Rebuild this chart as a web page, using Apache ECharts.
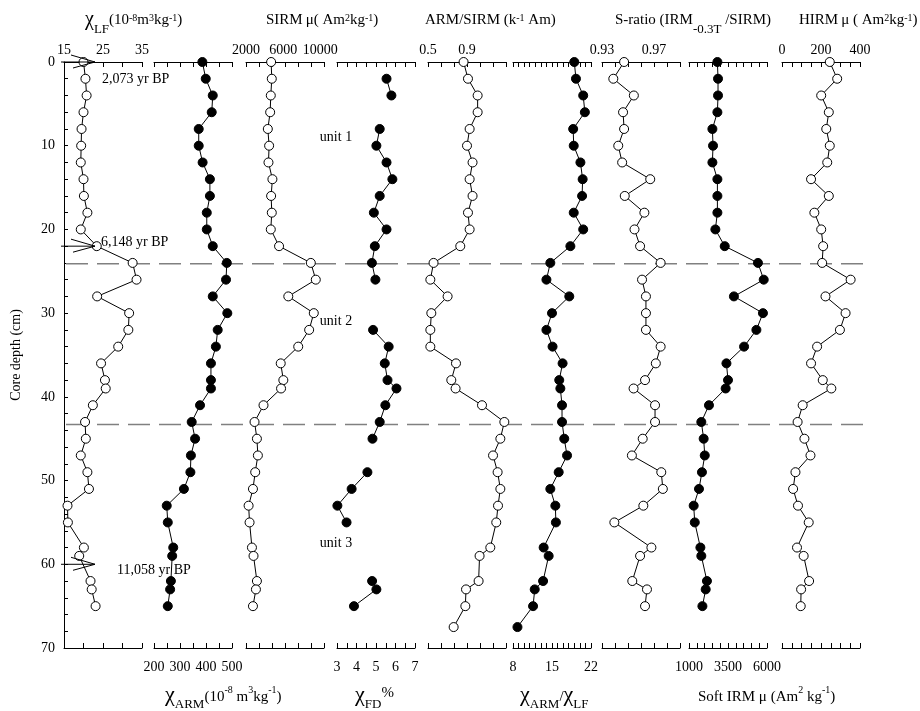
<!DOCTYPE html>
<html>
<head>
<meta charset="utf-8">
<title>Core magnetic parameters</title>
<script src="https://cdn.jsdelivr.net/npm/echarts@6/dist/echarts.min.js"></script>
<style>
  html, body { margin: 0; padding: 0; background: #fff; }
  #chart { width: 920px; height: 711px; }
</style>
</head>
<body>
<div id="chart"></div>
<script>
// depths (cm) shared by all profiles
var depth = [0, 2, 4, 6, 8, 10, 12, 14, 16, 18, 20, 22, 24, 26, 28, 30, 32, 34, 36, 38, 39, 41, 43, 45, 47, 49, 51, 53, 55, 58, 59, 62, 63, 65, 67.5];

var chiLF = [20, 20.5, 20.8, 20, 19.5, 19.4, 19.3, 20, 20.1, 21, 19.3, 23.4, 32.6, 33.6, 23.5, 31.7, 31.5, 28.9, 24.5, 25.5, 25.7, 22.4, 20.4, 20.6, 19.3, 21, 21.4, 15.9, 16, 20.1, 18.9, 21.8, 22.1, 23.1, null];
var chiARM = [386, 399, 426, 422, 372, 372, 387, 415, 415, 403, 403, 426, 480, 477, 426, 482, 445, 438, 419, 419, 419, 377, 345, 358, 342, 340, 315, 249, 253, 274, 270, 265, 262, 253, null];
var sirm = [4705, 4778, 4670, 4600, 4350, 4490, 4420, 4845, 4705, 4778, 4670, 5560, 8980, 9515, 6555, 9300, 8800, 7625, 5740, 6020, 5775, 3885, 2920, 3175, 3280, 2990, 2750, 2280, 2385, 2640, 2810, 3175, 3070, 2750, null];
var chiFD = [null, 5.54, 5.79, null, 5.19, 5.02, 5.54, 5.84, 5.19, 4.89, 5.54, 4.94, 4.79, 4.97, null, null, 4.85, 5.65, 5.45, 5.59, 6.05, 5.48, 5.19, 4.82, null, 4.56, 3.75, 3.02, 3.49, null, null, 4.8, 5.02, 3.87, null];
var armSirm = [0.865, 0.91, 1.009, 1.009, 0.927, 0.9, 0.957, 0.927, 0.957, 0.91, 0.927, 0.831, 0.557, 0.524, 0.701, 0.534, 0.524, 0.524, 0.787, 0.739, 0.783, 1.054, 1.283, 1.242, 1.167, 1.214, 1.242, 1.218, 1.2, 1.139, 1.029, 1.019, 0.89, 0.883, 0.763];
var armLfRatio = [19.0, 19.3, 20.6, 20.9, 18.8, 18.9, 20.1, 20.5, 20.4, 18.9, 20.6, 18.3, 14.7, 14.0, 18.1, 15.0, 14.0, 15.1, 16.9, 16.3, 16.5, 16.8, 16.8, 17.2, 17.7, 16.2, 14.7, 15.6, 15.7, 13.5, 14.4, 13.4, 11.9, 11.6, 8.8];
var sRatio = [0.947, 0.9387, 0.9545, 0.9462, 0.947, 0.9425, 0.9455, 0.9671, 0.9475, 0.9626, 0.955, 0.9593, 0.9751, 0.9608, 0.9638, 0.9638, 0.9638, 0.9751, 0.9714, 0.9631, 0.9543, 0.9708, 0.9708, 0.9613, 0.953, 0.9756, 0.9768, 0.9618, 0.9395, 0.968, 0.9593, 0.9533, 0.9646, 0.9631, null];
var softIRM = [2820, 2860, 2860, 2820, 2500, 2540, 2500, 2820, 2820, 2820, 2690, 3290, 5420, 5790, 3880, 5740, 5320, 4530, 3400, 3500, 3350, 2280, 1790, 1940, 2010, 1830, 1640, 1300, 1370, 1730, 1790, 2150, 2070, 1860, null];
var hirm = [245, 283, 201, 240, 227, 245, 232, 149, 240, 166, 201, 211, 206, 352, 223, 326, 297, 180, 149, 209, 253, 106, 80, 115, 146, 69, 57, 82, 137, 77, 111, 139, 98, 96, null];

// axis ticks and tick labels
var chiLFTicks = [15, 20, 25, 30, 35], chiLFLabels = [15, 25, 35];
var chiARMTicks = [200, 250, 300, 350, 400, 450, 500], chiARMLabels = [200, 300, 400, 500];
var sirmTicks = [2000, 3400, 4800, 6200, 7600, 9000, 10400], sirmLabels = [2000, 6000, 10000];
var chiFDTicks = [3, 3.5, 4, 4.5, 5, 5.5, 6, 6.5, 7], chiFDLabels = [3, 4, 5, 6, 7];
var armSirmTicks = [0.5, 0.6333, 0.7667, 0.9, 1.0333, 1.1667, 1.3], armSirmLabels = [0.5, 0.9];
var ratioTicks = [8, 9, 10, 11, 12, 13, 14, 15, 16, 17, 18, 19, 20, 21, 22], ratioLabels = [8, 15, 22];
var sRatioTicks = [0.93, 0.94, 0.95, 0.96, 0.97, 0.98, 0.99], sRatioLabels = [0.93, 0.97];
var softTicks = [1000, 1500, 2000, 2500, 3000, 3500, 4000, 4500, 5000, 5500, 6000], softLabels = [1000, 3500, 6000];
var hirmTicks = [0, 50, 100, 150, 200, 250, 300, 350, 400], hirmLabels = [0, 200, 400];

// dated levels and unit boundaries
var ageDepths = [0, 22, 60];
var ageLabels = ['2,073 yr BP', '6,148 yr BP', '11,058 yr BP'];
var unitNames = ['unit 1', 'unit 2', 'unit 3'];
var unitDepths = [9, 31, 57.5];
var unitBoundaries = [24.1, 43.3];

var SERIF = 'Liberation Serif';
var ageLabelOffsets = [[38, 17], [37, -4], [53, 6]];

var panels = [
  { data: chiLF, side: 'top', open: true, min: 15, max: 35, ticks: chiLFTicks, labels: chiLFLabels, left: 64 },
  { data: chiARM, side: 'bottom', open: false, min: 200, max: 500, ticks: chiARMTicks, labels: chiARMLabels, left: 154 },
  { data: sirm, side: 'top', open: true, min: 2000, max: 10400, ticks: sirmTicks, labels: sirmLabels, left: 246 },
  { data: chiFD, side: 'bottom', open: false, min: 3, max: 7, ticks: chiFDTicks, labels: chiFDLabels, left: 337 },
  { data: armSirm, side: 'top', open: true, min: 0.5, max: 1.3, ticks: armSirmTicks, labels: armSirmLabels, left: 428 },
  { data: armLfRatio, side: 'bottom', open: false, min: 8, max: 22, ticks: ratioTicks, labels: ratioLabels, left: 513 },
  { data: sRatio, side: 'top', open: true, min: 0.93, max: 0.99, ticks: sRatioTicks, labels: sRatioLabels, left: 602 },
  { data: softIRM, side: 'bottom', open: false, min: 1000, max: 6000, ticks: softTicks, labels: softLabels, left: 689 },
  { data: hirm, side: 'top', open: true, min: 0, max: 400, ticks: hirmTicks, labels: hirmLabels, left: 782 }
];

var grids = [], xAxes = [], yAxes = [], series = [];

panels.forEach(function (p, i) {
  grids.push({ left: p.left, top: 62, width: 78, height: 586 });
  [p.side, p.side === 'top' ? 'bottom' : 'top'].forEach(function (pos, k) {
    xAxes.push({
      type: 'value', gridIndex: i, position: pos, min: p.min, max: p.max,
      axisLine: { show: true, onZero: false, lineStyle: { color: '#000', width: 1 } },
      axisTick: { show: true, inside: true, length: 5, customValues: p.ticks, lineStyle: { color: '#000' } },
      axisLabel: {
        show: k === 0, customValues: p.labels, margin: pos === 'top' ? 5 : 12,
        color: '#000', fontSize: 14, fontFamily: SERIF,
        formatter: function (v) { return String(v); }
      },
      splitLine: { show: false }
    });
  });
  yAxes.push(i === 0 ? {
    type: 'value', gridIndex: 0, inverse: true, min: 0, max: 70, interval: 2,
    axisLine: { show: true, onZero: false, lineStyle: { color: '#000', width: 1 } },
    axisTick: { show: true, inside: true, length: 4, lineStyle: { color: '#000' } },
    axisLabel: {
      margin: 9, color: '#000', fontSize: 14, fontFamily: SERIF,
      formatter: function (v) { return v % 10 === 0 ? String(v) : ''; }
    },
    splitLine: { show: false },
    name: 'Core depth (cm)', nameLocation: 'middle', nameGap: 41, nameRotate: 90,
    nameTextStyle: { color: '#000', fontSize: 14, fontFamily: SERIF }
  } : {
    type: 'value', gridIndex: i, inverse: true, min: 0, max: 70, show: false
  });
  series.push({
    type: 'line', xAxisIndex: 2 * i, yAxisIndex: i, z: 3,
    data: depth.map(function (d, k) { return [p.data[k] == null ? '-' : p.data[k], d]; }),
    symbol: 'circle', symbolSize: 9,
    lineStyle: { color: '#000', width: 1 },
    itemStyle: p.open ? { color: '#fff', borderColor: '#000', borderWidth: 1 } : { color: '#000', borderColor: '#000', borderWidth: 1 },
    emphasis: { disabled: true }
  });
});

// full-width grid for the unit boundary lines
grids.push({ left: 66, top: 62, width: 804, height: 586 });
xAxes.push({ type: 'value', gridIndex: 9, min: 0, max: 1, show: false });
yAxes.push({ type: 'value', gridIndex: 9, inverse: true, min: 0, max: 70, show: false });
unitBoundaries.forEach(function (b) {
  series.push({
    type: 'line', xAxisIndex: 18, yAxisIndex: 9, z: 1, symbol: 'none',
    data: [[0, b], [1, b]],
    lineStyle: { color: '#808080', width: 1.5, type: [22, 9] },
    emphasis: { disabled: true }
  });
});

// age markers on the chi-LF axis
series.push({
  type: 'custom', xAxisIndex: 0, yAxisIndex: 0, z: 4,
  data: ageDepths.map(function (d) { return [15, d]; }),
  renderItem: function (params, api) {
    var p = api.coord([api.value(0), api.value(1)]);
    var tip = p[0] + 31, y = p[1];
    var off = ageLabelOffsets[params.dataIndex];
    var ls = { stroke: '#000', lineWidth: 1 };
    return {
      type: 'group',
      children: [
        { type: 'line', shape: { x1: tip - 34, y1: y, x2: tip, y2: y }, style: ls },
        { type: 'line', shape: { x1: tip - 24, y1: y - 7, x2: tip, y2: y }, style: ls },
        { type: 'line', shape: { x1: tip - 22, y1: y + 6, x2: tip, y2: y }, style: ls },
        { type: 'text', style: { text: ageLabels[params.dataIndex], x: p[0] + off[0], y: y + off[1],
          fill: '#000', fontSize: 14, fontFamily: SERIF, align: 'left', verticalAlign: 'middle' } }
      ]
    };
  }
});

// unit names
series.push({
  type: 'custom', xAxisIndex: 6, yAxisIndex: 3, z: 4,
  data: unitDepths.map(function (d) { return [3, d]; }),
  renderItem: function (params, api) {
    var p = api.coord([api.value(0), api.value(1)]);
    return { type: 'text', style: { text: unitNames[params.dataIndex], x: p[0] - 1, y: p[1],
      fill: '#000', fontSize: 14, fontFamily: SERIF, align: 'center', verticalAlign: 'middle' } };
  }
});

// titles: tokens laid out left to right, sub/superscripts by their own size and height
var topStyles = { c: { size: 20, y: 20 }, s: { size: 13, y: 30 }, t: { size: 15, y: 20.5 }, u: { size: 10, y: 18.5 } };
var bottomStyles = { c: { size: 22, y: 695 }, s: { size: 13, y: 705 }, t: { size: 15, y: 697 }, u: { size: 10, y: 690 }, p: { size: 15, y: 693 } };

var titles = [
  { x: 85, st: topStyles, tokens: [['χ', 'c'], ['LF', 's'], ['(10', 't'], ['-8', 'u'], ['m', 't'], ['3', 'u'], ['kg', 't'], ['-1', 'u'], [')', 't']] },
  { x: 266, st: topStyles, tokens: [['SIRM\u2009μ( Am', 't'], ['2', 'u'], ['kg', 't'], ['-1', 'u'], [')', 't']] },
  { x: 425, st: topStyles, tokens: [['ARM/SIRM (k', 't'], ['-1', 'u'], [' Am)', 't']] },
  { x: 615, st: topStyles, tokens: [['S-ratio (IRM', 't'], ['-0.3T', 's'], [' /SIRM)', 't']] },
  { x: 799, st: topStyles, tokens: [['HIRM\u2009μ ( Am', 't'], ['2', 'u'], ['kg', 't'], ['-1', 'u'], [')', 't']] },
  { x: 165, st: bottomStyles, tokens: [['χ', 'c'], ['ARM', 's'], ['(10', 't'], ['-8', 'u'], [' m', 't'], ['3', 'u'], ['kg', 't'], ['-1', 'u'], [')', 't']] },
  { x: 355, st: bottomStyles, tokens: [['χ', 'c'], ['FD', 's'], ['%', 'p']] },
  { x: 520, st: bottomStyles, tokens: [['χ', 'c'], ['ARM', 's'], ['/', 't'], ['χ', 'c'], ['LF', 's']] },
  { x: 698, st: bottomStyles, tokens: [['Soft IRM μ (Am', 't'], ['2', 'u'], [' kg', 't'], ['-1', 'u'], [')', 't']] }
];

var measureCtx = document.createElement('canvas').getContext('2d');
var titleGraphics = [];
titles.forEach(function (t) {
  var x = t.x;
  t.tokens.forEach(function (tok) {
    var st = t.st[tok[1]];
    measureCtx.font = st.size + 'px "' + SERIF + '"';
    titleGraphics.push({
      type: 'text', x: x, y: st.y, z: 10, silent: true,
      style: { text: tok[0], fontSize: st.size, fontFamily: SERIF, fill: '#000', align: 'left', verticalAlign: 'middle' }
    });
    x += measureCtx.measureText(tok[0]).width;
  });
});

var chart = echarts.init(document.getElementById('chart'));
chart.setOption({
  animation: false,
  backgroundColor: '#fff',
  grid: grids,
  xAxis: xAxes,
  yAxis: yAxes,
  series: series,
  graphic: titleGraphics
});
</script>
</body>
</html>
